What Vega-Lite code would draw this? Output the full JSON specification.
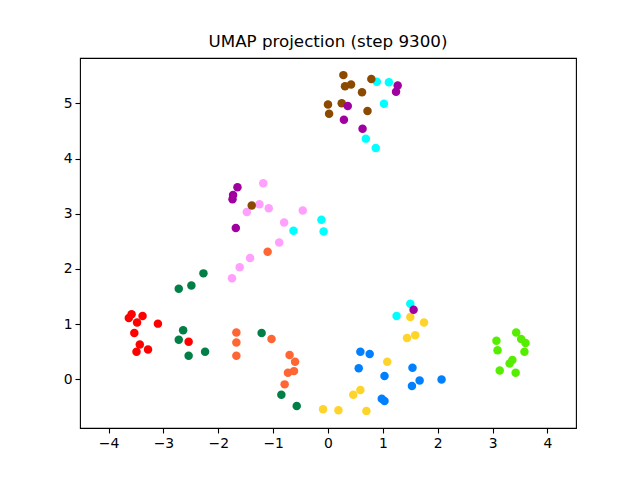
{
  "$schema": "https://vega.github.io/schema/vega-lite/v6.json",
  "width": 496,
  "height": 370,
  "autosize": {"type": "none"},
  "padding": {"left": 80, "top": 58, "right": 64, "bottom": 52},
  "background": "white",
  "title": {"text": "UMAP projection (step 9300)", "font": "DejaVu Sans", "fontSize": 16.7, "fontWeight": "normal", "color": "black", "offset": 7},
  "config": {
    "view": {"stroke": "black", "strokeWidth": 1.1},
    "axis": {"grid": false, "domain": false, "tickColor": "black", "tickSize": 5, "tickWidth": 1.1, "labelColor": "black", "labelFont": "DejaVu Sans", "labelFontSize": 13.9, "labelPadding": 3, "title": null}
  },
  "data": {"values": [
    {"x": -2.27, "y": 1.92, "c": "dkgreen"},
    {"x": -2.49, "y": 1.70, "c": "dkgreen"},
    {"x": -2.72, "y": 1.64, "c": "dkgreen"},
    {"x": -2.64, "y": 0.89, "c": "dkgreen"},
    {"x": -2.72, "y": 0.72, "c": "dkgreen"},
    {"x": -2.54, "y": 0.43, "c": "dkgreen"},
    {"x": -2.24, "y": 0.50, "c": "dkgreen"},
    {"x": -1.21, "y": 0.84, "c": "dkgreen"},
    {"x": -0.85, "y": -0.28, "c": "dkgreen"},
    {"x": -0.57, "y": -0.48, "c": "dkgreen"},
    {"x": -3.58, "y": 1.18, "c": "red"},
    {"x": -3.63, "y": 1.11, "c": "red"},
    {"x": -3.38, "y": 1.15, "c": "red"},
    {"x": -3.48, "y": 1.03, "c": "red"},
    {"x": -3.10, "y": 1.01, "c": "red"},
    {"x": -3.53, "y": 0.84, "c": "red"},
    {"x": -3.43, "y": 0.63, "c": "red"},
    {"x": -3.49, "y": 0.50, "c": "red"},
    {"x": -3.28, "y": 0.54, "c": "red"},
    {"x": -2.54, "y": 0.68, "c": "red"},
    {"x": -1.10, "y": 2.31, "c": "orange"},
    {"x": -1.67, "y": 0.85, "c": "orange"},
    {"x": -1.67, "y": 0.67, "c": "orange"},
    {"x": -1.67, "y": 0.43, "c": "orange"},
    {"x": -1.03, "y": 0.73, "c": "orange"},
    {"x": -0.70, "y": 0.44, "c": "orange"},
    {"x": -0.60, "y": 0.32, "c": "orange"},
    {"x": -0.73, "y": 0.12, "c": "orange"},
    {"x": -0.62, "y": 0.15, "c": "orange"},
    {"x": -0.79, "y": -0.09, "c": "orange"},
    {"x": -1.18, "y": 3.55, "c": "pink"},
    {"x": -1.25, "y": 3.17, "c": "pink"},
    {"x": -1.48, "y": 3.03, "c": "pink"},
    {"x": -1.08, "y": 3.10, "c": "pink"},
    {"x": -0.46, "y": 3.06, "c": "pink"},
    {"x": -0.80, "y": 2.84, "c": "pink"},
    {"x": -0.89, "y": 2.48, "c": "pink"},
    {"x": -1.42, "y": 2.20, "c": "pink"},
    {"x": -1.61, "y": 2.03, "c": "pink"},
    {"x": -1.75, "y": 1.83, "c": "pink"},
    {"x": -0.12, "y": 2.89, "c": "cyan"},
    {"x": -0.08, "y": 2.68, "c": "cyan"},
    {"x": -0.63, "y": 2.69, "c": "cyan"},
    {"x": 0.89, "y": 5.39, "c": "cyan"},
    {"x": 1.11, "y": 5.38, "c": "cyan"},
    {"x": 1.02, "y": 4.99, "c": "cyan"},
    {"x": 0.69, "y": 4.36, "c": "cyan"},
    {"x": 0.87, "y": 4.19, "c": "cyan"},
    {"x": 1.50, "y": 1.37, "c": "cyan"},
    {"x": 1.25, "y": 1.15, "c": "cyan"},
    {"x": 1.50, "y": 1.13, "c": "yellow"},
    {"x": 1.75, "y": 1.03, "c": "yellow"},
    {"x": 1.44, "y": 0.75, "c": "yellow"},
    {"x": 1.59, "y": 0.80, "c": "yellow"},
    {"x": 1.08, "y": 0.32, "c": "yellow"},
    {"x": 0.59, "y": -0.19, "c": "yellow"},
    {"x": 0.46, "y": -0.28, "c": "yellow"},
    {"x": -0.09, "y": -0.54, "c": "yellow"},
    {"x": 0.19, "y": -0.56, "c": "yellow"},
    {"x": 0.70, "y": -0.57, "c": "yellow"},
    {"x": 0.59, "y": 0.50, "c": "blue"},
    {"x": 0.76, "y": 0.46, "c": "blue"},
    {"x": 0.56, "y": 0.20, "c": "blue"},
    {"x": 1.03, "y": 0.06, "c": "blue"},
    {"x": 1.54, "y": 0.21, "c": "blue"},
    {"x": 1.67, "y": -0.02, "c": "blue"},
    {"x": 1.53, "y": -0.12, "c": "blue"},
    {"x": 2.07, "y": 0.00, "c": "blue"},
    {"x": 0.98, "y": -0.35, "c": "blue"},
    {"x": 1.03, "y": -0.39, "c": "blue"},
    {"x": 3.43, "y": 0.85, "c": "lime"},
    {"x": 3.07, "y": 0.70, "c": "lime"},
    {"x": 3.52, "y": 0.73, "c": "lime"},
    {"x": 3.60, "y": 0.66, "c": "lime"},
    {"x": 3.09, "y": 0.53, "c": "lime"},
    {"x": 3.58, "y": 0.50, "c": "lime"},
    {"x": 3.36, "y": 0.35, "c": "lime"},
    {"x": 3.31, "y": 0.29, "c": "lime"},
    {"x": 3.13, "y": 0.16, "c": "lime"},
    {"x": 3.42, "y": 0.12, "c": "lime"},
    {"x": -1.39, "y": 3.15, "c": "brown"},
    {"x": 0.28, "y": 5.51, "c": "brown"},
    {"x": 0.79, "y": 5.44, "c": "brown"},
    {"x": 0.31, "y": 5.31, "c": "brown"},
    {"x": 0.42, "y": 5.34, "c": "brown"},
    {"x": 0.62, "y": 5.20, "c": "brown"},
    {"x": 0.00, "y": 4.98, "c": "brown"},
    {"x": 0.25, "y": 5.00, "c": "brown"},
    {"x": 0.02, "y": 4.81, "c": "brown"},
    {"x": 0.72, "y": 4.86, "c": "brown"},
    {"x": -1.65, "y": 3.48, "c": "purple"},
    {"x": -1.73, "y": 3.34, "c": "purple"},
    {"x": -1.74, "y": 3.26, "c": "purple"},
    {"x": -1.68, "y": 2.74, "c": "purple"},
    {"x": 1.27, "y": 5.32, "c": "purple"},
    {"x": 1.24, "y": 5.21, "c": "purple"},
    {"x": 0.36, "y": 4.95, "c": "purple"},
    {"x": 0.29, "y": 4.70, "c": "purple"},
    {"x": 0.63, "y": 4.54, "c": "purple"},
    {"x": 1.56, "y": 1.26, "c": "purple"}
  ]},
  "mark": {"type": "point", "filled": true, "shape": "circle", "size": 72, "opacity": 1},
  "encoding": {
    "x": {"field": "x", "type": "quantitative", "scale": {"domain": [-4.52, 4.52], "nice": false, "zero": false}, "axis": {"values": [-4, -3, -2, -1, 0, 1, 2, 3, 4]}},
    "y": {"field": "y", "type": "quantitative", "scale": {"domain": [-0.88, 5.82], "nice": false, "zero": false}, "axis": {"values": [0, 1, 2, 3, 4, 5]}},
    "color": {"field": "c", "type": "nominal", "legend": null, "scale": {
      "domain": ["red", "dkgreen", "orange", "pink", "cyan", "yellow", "blue", "lime", "brown", "purple"],
      "range": ["#ff0000", "#007f46", "#ff6633", "#ffa0ff", "#00ffff", "#ffd42a", "#0080ff", "#55ee00", "#8b4a00", "#a000a0"]
    }}
  }
}
